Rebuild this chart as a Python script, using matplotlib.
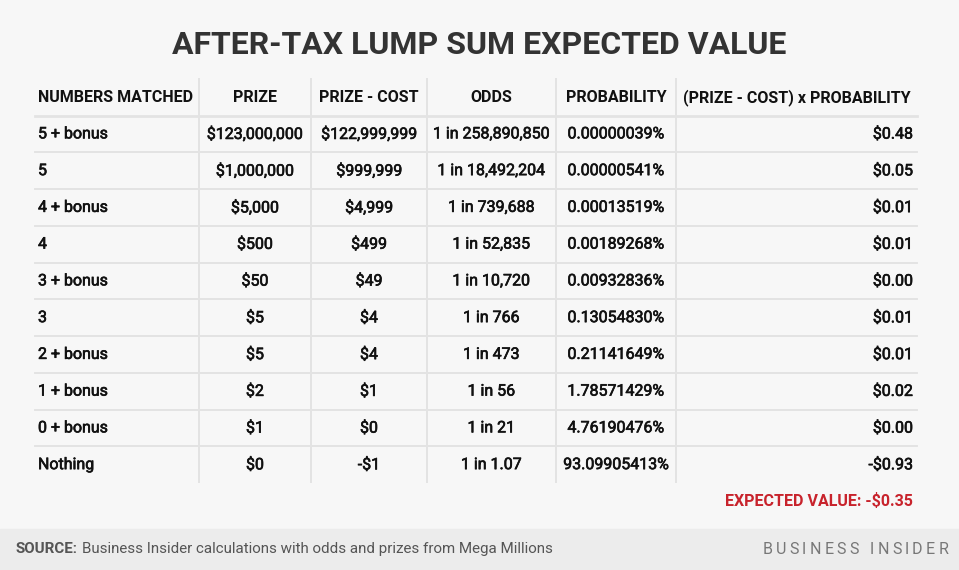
import matplotlib.pyplot as plt
import matplotlib.patheffects as pe
from matplotlib.patches import Rectangle

plt.rcParams['font.family'] = ['Roboto', 'DejaVu Sans']

# table content
headers = ['NUMBERS MATCHED', 'PRIZE', 'PRIZE - COST', 'ODDS', 'PROBABILITY',
           '(PRIZE - COST) x PROBABILITY']
matched = ['5 + bonus', '5', '4 + bonus', '4', '3 + bonus', '3', '2 + bonus',
           '1 + bonus', '0 + bonus', 'Nothing']
prize = ['$123,000,000', '$1,000,000', '$5,000', '$500', '$50', '$5', '$5',
         '$2', '$1', '$0']
prize_cost = ['$122,999,999', '$999,999', '$4,999', '$499', '$49', '$4', '$4',
              '$1', '$0', '-$1']
odds = ['1 in 258,890,850', '1 in 18,492,204', '1 in 739,688', '1 in 52,835',
        '1 in 10,720', '1 in 766', '1 in 473', '1 in 56', '1 in 21', '1 in 1.07']
probability = ['0.00000039%', '0.00000541%', '0.00013519%', '0.00189268%',
               '0.00932836%', '0.13054830%', '0.21141649%', '1.78571429%',
               '4.76190476%', '93.09905413%']
ev_per_row = ['$0.48', '$0.05', '$0.01', '$0.01', '$0.00', '$0.01', '$0.01',
              '$0.02', '$0.00', '-$0.93']
expected_value = '-$0.35'

columns = [matched, prize, prize_cost, odds, probability, ev_per_row]

W, H = 959, 570
fig = plt.figure(figsize=(W / 100, H / 100), dpi=100)
fig.patch.set_facecolor('#f7f7f7')
ax = fig.add_axes([0, 0, 1, 1])
ax.set_xlim(0, W)
ax.set_ylim(H, 0)
ax.axis('off')

# layout in pixels
col_edges = [35, 199, 311, 427, 556, 676, 917]
top, header_bottom, row_h = 78, 115.5, 36.75
n_rows = len(matched)
bottom = header_bottom + row_h * n_rows
line_col = '#e3e3e3'
fs = 11.5
medium = [pe.withStroke(linewidth=0.45, foreground='#111111')]

ax.text(W / 2, 45, 'AFTER-TAX LUMP SUM EXPECTED VALUE', ha='center', va='center',
        fontsize=23, fontweight='bold', color='#333333')

# grid lines
for x in col_edges[1:-1]:
    ax.plot([x, x], [top, bottom], color=line_col, lw=1.4, solid_capstyle='butt')
ax.plot([col_edges[0], col_edges[-1]], [header_bottom, header_bottom],
        color=line_col, lw=2.0)
for i in range(1, n_rows):
    y = header_bottom + i * row_h
    ax.plot([col_edges[0], col_edges[-1]], [y, y], color=line_col, lw=1.4)


def cell_x(j):
    if j == 0:
        return col_edges[0] + 3, 'left'
    if j == len(columns) - 1:
        return col_edges[-1] - 4, 'right'
    return (col_edges[j] + col_edges[j + 1]) / 2, 'center'


# header
for j, h in enumerate(headers):
    x, ha = cell_x(j)
    if j == len(headers) - 1:
        x, ha = (col_edges[j] + col_edges[j + 1]) / 2, 'center'
    ax.text(x, (top + header_bottom) / 2 + 1, h, ha=ha, va='center',
            fontsize=fs, fontweight='bold', color='#111111')

# body
for j, col in enumerate(columns):
    x, ha = cell_x(j)
    for i, val in enumerate(col):
        y = header_bottom + (i + 0.5) * row_h
        ax.text(x, y, val, ha=ha, va='center', fontsize=fs,
                color='#111111', path_effects=medium)

ax.text(col_edges[-1] - 4, 501, 'EXPECTED VALUE: ' + expected_value, ha='right',
        va='center', fontsize=fs, fontweight='bold', color='#c8232c')

# footer band
ax.add_patch(Rectangle((0, 529), W, H - 529, color='#ececec', zorder=0))
t = ax.text(16, 549, 'SOURCE:', ha='left', va='center', fontsize=10.9,
            fontweight='bold', color='#555555')
fig.canvas.draw()
r = fig.canvas.get_renderer()
bb = t.get_window_extent(renderer=r)
ax.text(16 + bb.width + 4, 549, 'Business Insider calculations with odds and prizes from Mega Millions',
        ha='left', va='center', fontsize=10.9, color='#555555')

# letter-spaced logo, right aligned
logo = 'BUSINESS INSIDER'
tracking = 3.2
logo_fs = 11.5
widths = []
for ch in logo:
    tt = ax.text(0, 0, ch if ch != ' ' else 'I', fontsize=logo_fs)
    w = tt.get_window_extent(renderer=r).width
    widths.append(w if ch != ' ' else w * 1.2)
    tt.remove()
total = sum(widths) + tracking * (len(logo) - 1)
x = 948 - total
for ch, w in zip(logo, widths):
    if ch != ' ':
        ax.text(x, 549, ch, ha='left', va='center', fontsize=logo_fs,
                color='#777777')
    x += w + tracking

fig.savefig('out.png', dpi=100, facecolor=fig.get_facecolor())
